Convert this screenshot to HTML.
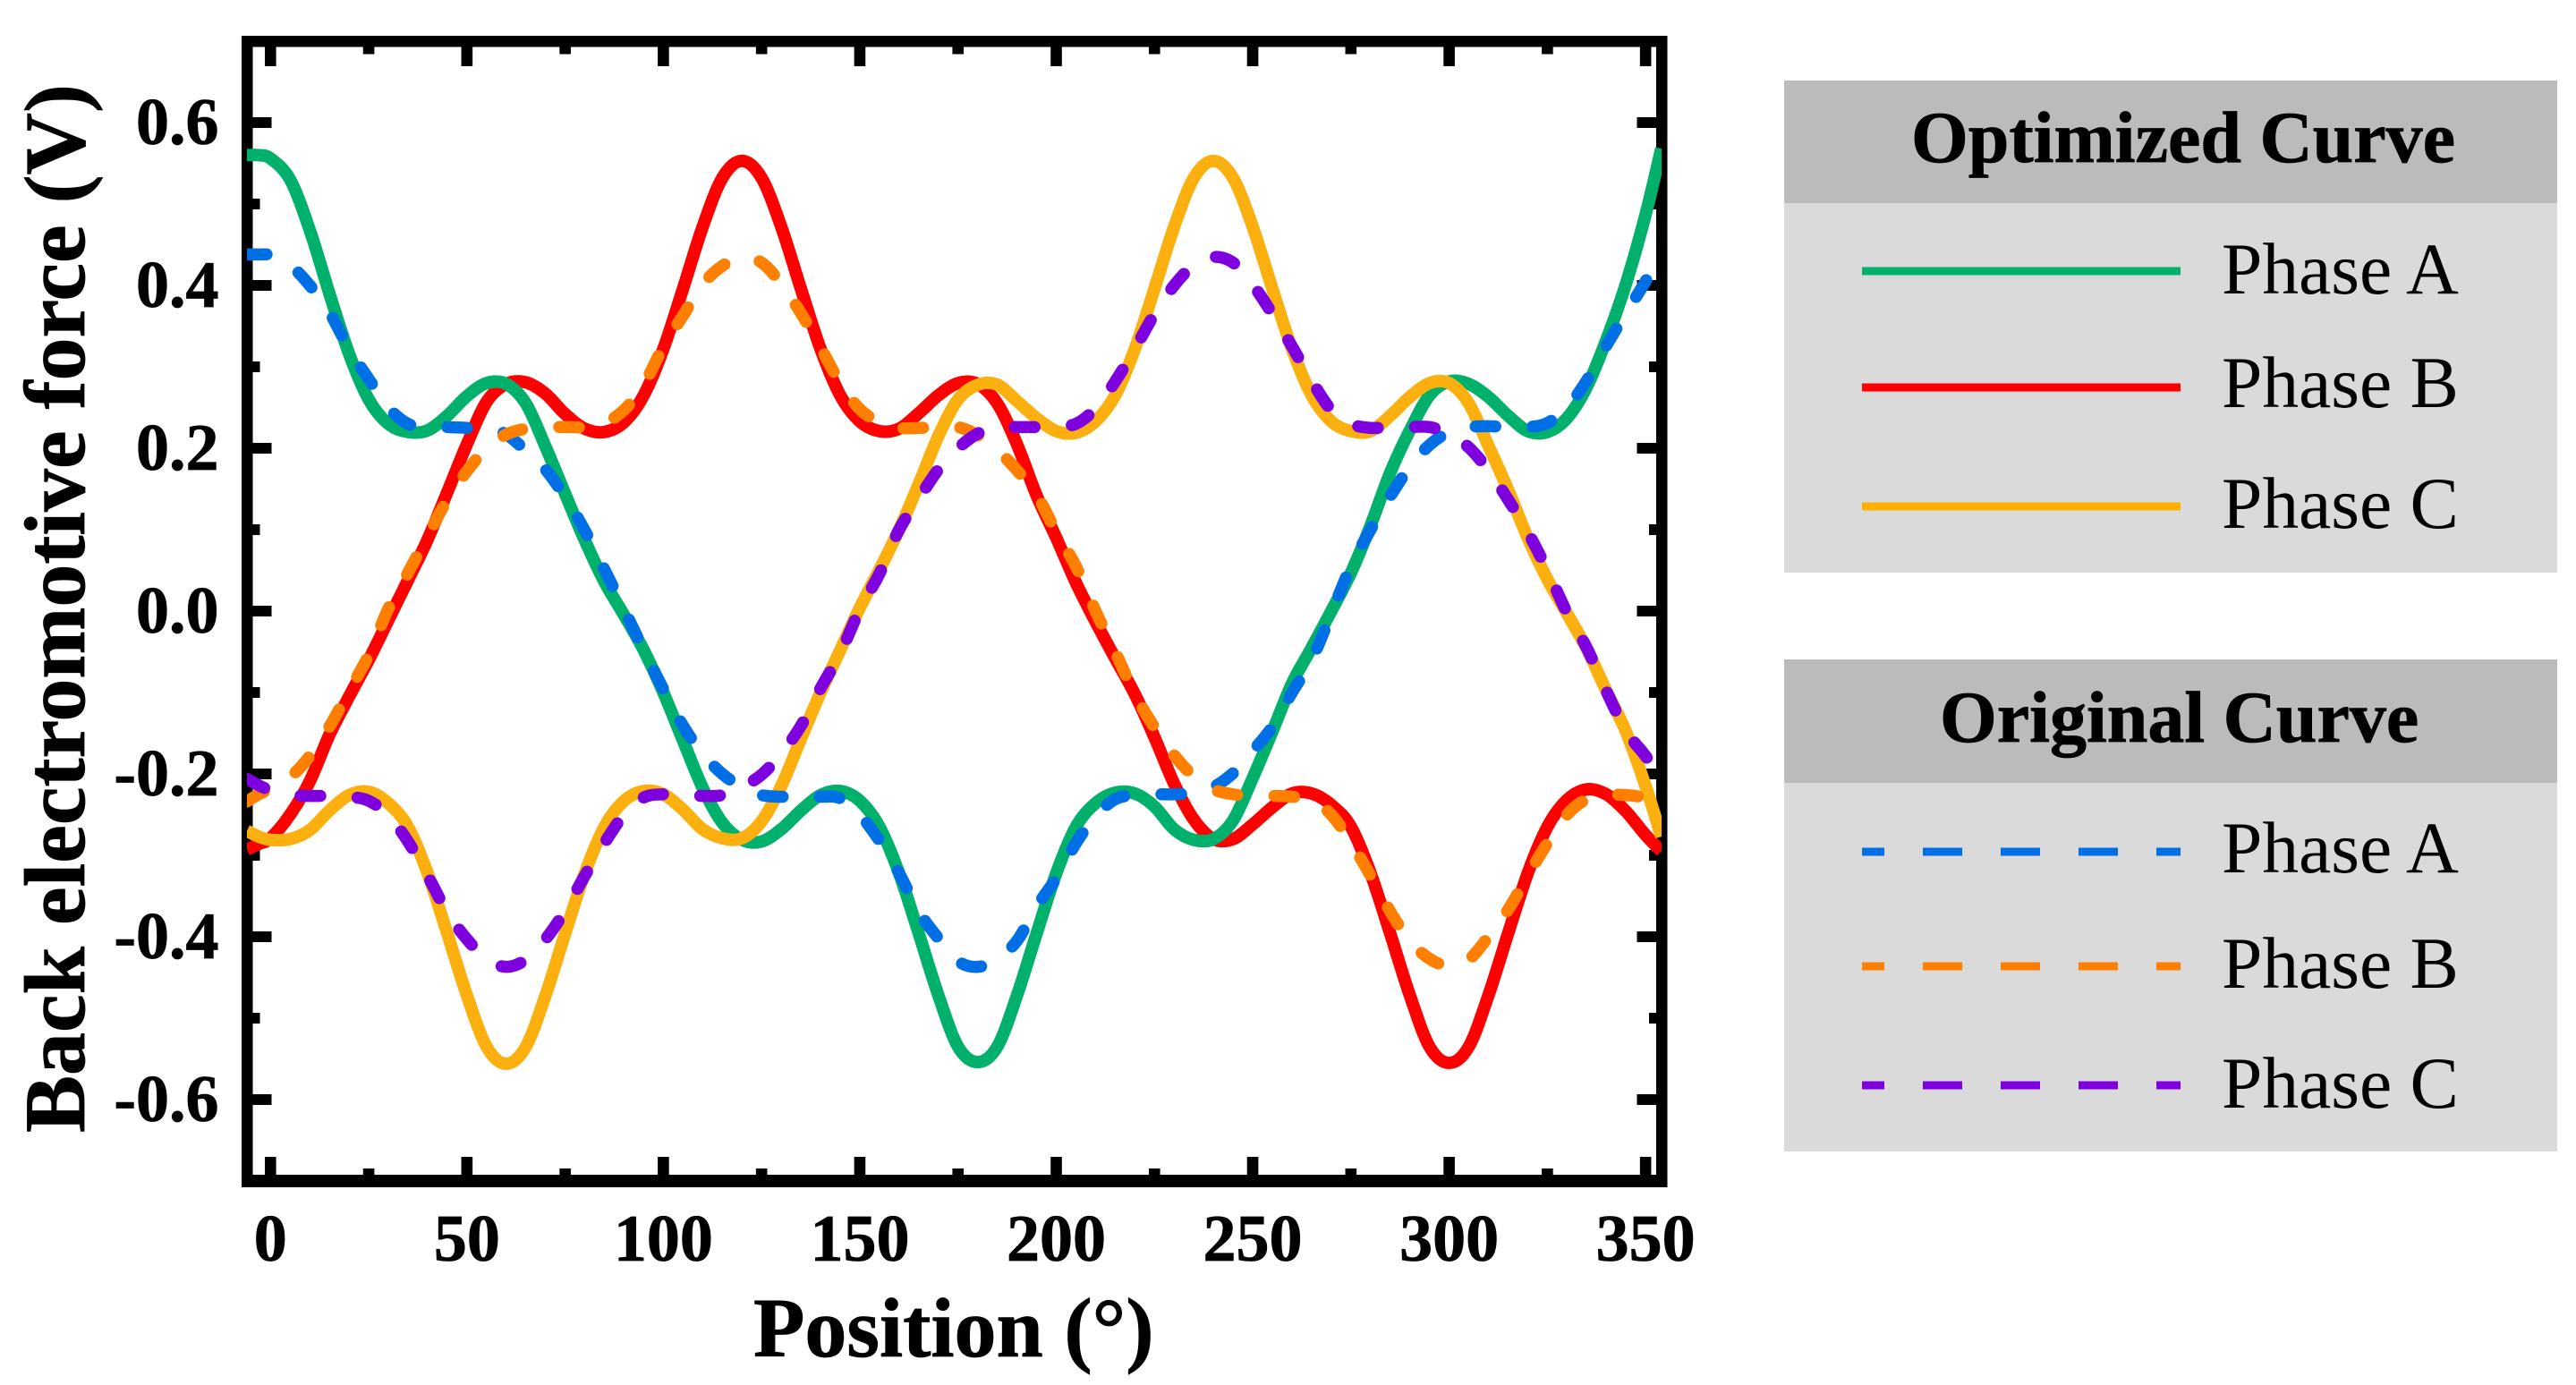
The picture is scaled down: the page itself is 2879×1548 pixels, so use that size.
<!DOCTYPE html>
<html lang="en">
<head>
<meta charset="utf-8">
<title>Back electromotive force</title>
<style>
html,body{margin:0;padding:0;background:#fff;width:2879px;height:1548px;overflow:hidden}
svg{display:block}
text{font-family:"Liberation Serif",serif;fill:#000}
.b{font-weight:bold;stroke:#000;stroke-width:.8px}
</style>
</head>
<body>
<svg id="chart" xmlns="http://www.w3.org/2000/svg" width="2879" height="1548" viewBox="0 0 2879 1548">
  <rect x="0" y="0" width="2879" height="1548" fill="#fff"/>
  <defs><clipPath id="plot-clip"><rect x="276" y="46" width="1581" height="1274"/></clipPath></defs>
  <g id="axes"></g>
  <g id="solid" clip-path="url(#plot-clip)"></g>
  <g id="dashed" clip-path="url(#plot-clip)"></g>
  <text class="b" font-size="96" transform="translate(94,1266) rotate(-90)">Back electromotive force (V)</text>
  <text class="b" font-size="94" x="842" y="1516">Position (°)</text>

  <g>
    <rect x="1994" y="227" width="864" height="413" fill="#dadada"/>
    <rect x="1994" y="90" width="864" height="137" fill="#bbbbbb"/>
    <text class="b" font-size="82" x="2136" y="181">Optimized Curve</text>
    <line x1="2081" y1="303" x2="2437" y2="303" stroke="#00b06b" stroke-width="9"/>
    <text font-size="81.5" x="2483" y="328">Phase A</text>
    <line x1="2081" y1="433" x2="2437" y2="433" stroke="#ff0000" stroke-width="9"/>
    <text font-size="81.5" x="2483" y="455">Phase B</text>
    <line x1="2081" y1="566" x2="2437" y2="566" stroke="#ffb000" stroke-width="9"/>
    <text font-size="81.5" x="2483" y="590">Phase C</text>
  </g>

  <g>
    <rect x="1994" y="875" width="864" height="412" fill="#dadada"/>
    <rect x="1994" y="737" width="864" height="138" fill="#bbbbbb"/>
    <text class="b" font-size="82" x="2168" y="829">Original Curve</text>
    <line x1="2081" y1="952" x2="2437" y2="952" stroke="#006fe6" stroke-width="9" stroke-dasharray="44 43" stroke-dashoffset="19"/>
    <text font-size="81.5" x="2483" y="975">Phase A</text>
    <line x1="2081" y1="1080" x2="2437" y2="1080" stroke="#ff8000" stroke-width="9" stroke-dasharray="44 43" stroke-dashoffset="19"/>
    <text font-size="81.5" x="2483" y="1104">Phase B</text>
    <line x1="2081" y1="1213" x2="2437" y2="1213" stroke="#7f00df" stroke-width="9" stroke-dasharray="44 43" stroke-dashoffset="19"/>
    <text font-size="81.5" x="2483" y="1238">Phase C</text>
  </g>
</svg>
<script>
const xMajorTicks = [0, 50, 100, 150, 200, 250, 300, 350];
const xMinorTicks = [25, 75, 125, 175, 225, 275, 325];
const yMajorTicks = [0.6, 0.4, 0.2, 0.0, -0.2, -0.4, -0.6];
const yMinorTicks = [0.5, 0.3, 0.1, -0.1, -0.3, -0.5];
const xTickLabels = ["0", "50", "100", "150", "200", "250", "300", "350"];
const yTickLabels = ["0.6", "0.4", "0.2", "0.0", "-0.2", "-0.4", "-0.6"];

const angles = [-6, -3, 0, 5, 10, 15, 20, 25, 30, 35, 40, 45, 50, 55, 60, 65, 70, 75, 80, 85, 90, 95, 100, 105, 110, 115, 120, 125, 130, 135, 140, 145, 150, 155, 160, 165, 170, 175, 180, 185, 190, 195, 200, 205, 210, 215, 220, 225, 230, 235, 240, 245, 250, 255, 260, 265, 270, 275, 280, 285, 290, 295, 300, 305, 310, 315, 320, 325, 330, 335, 340, 345, 350, 354];

const optimizedA = [.56, .56, .556, .53, .468, .39, .316, .26, .23, .22, .222, .24, .264, .28, .279, .255, .202, .144, .087, .036, -.005, -.048, -.1, -.159, -.217, -.26, -.281, -.283, -.268, -.245, -.226, -.221, -.233, -.265, -.322, -.396, -.472, -.535, -.554, -.535, -.472, -.396, -.322, -.265, -.236, -.223, -.224, -.24, -.268, -.281, -.28, -.257, -.205, -.148, -.089, -.045, 0, .047, .105, .17, .222, .265, .282, .279, .263, .24, .221, .22, .237, .275, .333, .402, .487, .568];
const optimizedB = [-.293, -.286, -.279, -.25, -.209, -.152, -.105, -.06, -.011, .038, .088, .146, .205, .257, .279, .281, .267, .242, .224, .22, .232, .265, .322, .396, .472, .532, .553, .532, .472, .396, .322, .265, .233, .221, .224, .243, .265, .28, .279, .255, .205, .142, .09, .035, -.013, -.058, -.102, -.155, -.212, -.256, -.28, -.28, -.262, -.241, -.224, -.224, -.238, -.265, -.322, -.396, -.472, -.535, -.555, -.535, -.472, -.396, -.322, -.265, -.232, -.219, -.225, -.246, -.275, -.295];
const optimizedC = [-.27, -.277, -.281, -.28, -.269, -.245, -.226, -.222, -.236, -.265, -.322, -.396, -.472, -.535, -.556, -.535, -.472, -.396, -.322, -.265, -.233, -.221, -.225, -.244, -.268, -.279, -.279, -.258, -.215, -.157, -.1, -.048, .004, .051, .1, .156, .215, .26, .278, .278, .258, .237, .221, .219, .233, .265, .322, .396, .472, .532, .553, .532, .472, .396, .322, .265, .233, .221, .221, .24, .263, .28, .28, .255, .203, .149, .09, .039, -.003, -.046, -.098, -.148, -.215, -.277];

const originalA = [.438, .438, .437, .425, .4, .367, .322, .285, .25, .23, .226, .226, .225, .225, .217, .197, .174, .14, .099, .051, .002, -.048, -.096, -.141, -.175, -.2, -.216, -.226, -.228, -.228, -.228, -.23, -.25, -.282, -.322, -.369, -.402, -.43, -.437, -.427, -.405, -.363, -.328, -.285, -.252, -.231, -.226, -.225, -.225, -.223, -.216, -.199, -.172, -.142, -.1, -.06, -.003, .055, .1, .141, .177, .204, .22, .226, .227, .226, .226, .231, .25, .283, .326, .366, .405, .44];
const originalB = [-.234, -.225, -.218, -.204, -.178, -.142, -.098, -.054, .003, .047, .092, .137, .172, .2, .217, .224, .226, .226, .226, .231, .247, .278, .325, .363, .401, .424, .434, .428, .402, .366, .324, .28, .248, .232, .225, .225, .226, .226, .216, .198, .173, .143, .097, .055, 0, -.05, -.102, -.143, -.177, -.203, -.219, -.225, -.227, -.227, -.228, -.232, -.25, -.284, -.325, -.369, -.405, -.427, -.436, -.428, -.4, -.367, -.325, -.285, -.25, -.231, -.226, -.226, -.229, -.234];
const originalC = [-.206, -.214, -.22, -.226, -.227, -.227, -.228, -.233, -.251, -.283, -.325, -.37, -.403, -.427, -.437, -.428, -.403, -.368, -.325, -.285, -.25, -.229, -.225, -.226, -.227, -.226, -.216, -.201, -.175, -.141, -.095, -.052, .002, .046, .1, .138, .174, .2, .218, .226, .226, .226, .227, .23, .249, .282, .322, .365, .4, .425, .435, .428, .401, .365, .325, .283, .247, .23, .225, .226, .226, .226, .218, .201, .173, .137, .097, .05, -.002, -.045, -.098, -.147, -.178, -.206];

const SVGNS = "http://www.w3.org/2000/svg";
const xScale = v => 302.3 + 4.391 * v;
const yScale = v => 683 - 910 * v;

function make(tag, parent) {
  const el = document.createElementNS(SVGNS, tag);
  parent.appendChild(el);
  return el;
}

function smoothPath(xs, ys) {
  const pts = xs.map((x, i) => [xScale(x), yScale(ys[i])]);
  let d = "M" + pts[0][0].toFixed(2) + " " + pts[0][1].toFixed(2);
  for (let i = 0; i < pts.length - 1; i++) {
    const p0 = pts[Math.max(0, i - 1)], p1 = pts[i], p2 = pts[i + 1], p3 = pts[Math.min(pts.length - 1, i + 2)];
    const c1x = p1[0] + (p2[0] - p0[0]) / 6, c1y = p1[1] + (p2[1] - p0[1]) / 6;
    const c2x = p2[0] - (p3[0] - p1[0]) / 6, c2y = p2[1] - (p3[1] - p1[1]) / 6;
    d += "C" + c1x.toFixed(2) + " " + c1y.toFixed(2) + " " + c2x.toFixed(2) + " " + c2y.toFixed(2) + " " + p2[0].toFixed(2) + " " + p2[1].toFixed(2);
  }
  return d;
}

const axes = document.getElementById("axes");

function box(parent, x, y, w, h) {
  const r = make("rect", parent);
  r.setAttribute("x", x);
  r.setAttribute("y", y);
  r.setAttribute("width", w);
  r.setAttribute("height", h);
  r.setAttribute("fill", "#000");
  return r;
}

// spines
let spine = box(axes, 270, 40, 1593.5, 12.5);


spine = box(axes, 270, 1313, 1593.5, 14);


spine = box(axes, 270, 40, 12.5, 1287);


spine = box(axes, 1851, 40, 12.5, 1287);



// x ticks
xMajorTicks.forEach((v, i) => {
  const px = xScale(v);
  const t1 = box(axes, px - 6.3, 52, 12.6, 22);
  
  
  const t2 = box(axes, px - 6.3, 1293, 12.6, 21);
  
  
  const label = make("text", axes);
  
  
  label.setAttribute("class", "b");
  label.setAttribute("font-size", "74");
  label.setAttribute("text-anchor", "middle");
  label.setAttribute("x", px);
  label.setAttribute("y", 1409);
  label.textContent = xTickLabels[i];
});
xMinorTicks.forEach(v => {
  const px = xScale(v);
  const t1 = box(axes, px - 6.3, 52, 12.6, 8.5);
  
  
  const t2 = box(axes, px - 6.3, 1306, 12.6, 8);
  
  
});

// y ticks
yMajorTicks.forEach((v, i) => {
  const py = yScale(v);
  const t1 = box(axes, 282, py - 6, 21.5, 12);
  
  
  const t2 = box(axes, 1829.5, py - 6, 22, 12);
  
  
  const label = make("text", axes);
  
  
  label.setAttribute("class", "b");
  label.setAttribute("font-size", "74");
  label.setAttribute("text-anchor", "end");
  label.setAttribute("x", 244.5);
  label.setAttribute("y", py + 24);
  label.textContent = yTickLabels[i];
});
yMinorTicks.forEach(v => {
  const py = yScale(v);
  const t1 = box(axes, 282, py - 6, 8.5, 12);
  
  
  const t2 = box(axes, 1843, py - 6, 8.5, 12);
  
  
});

// curves
const solidGroup = document.getElementById("solid");
const dashedGroup = document.getElementById("dashed");

const lineB = make("path", solidGroup);


lineB.setAttribute("d", smoothPath(angles, optimizedB));
lineB.setAttribute("stroke", "#ff0000");

const lineA = make("path", solidGroup);


lineA.setAttribute("d", smoothPath(angles, optimizedA));
lineA.setAttribute("stroke", "#00b06b");

const lineC = make("path", solidGroup);


lineC.setAttribute("d", smoothPath(angles, optimizedC));
lineC.setAttribute("stroke", "#fcb00f");

[lineA, lineB, lineC].forEach(p => {
  p.setAttribute("fill", "none");
  p.setAttribute("stroke-width", "14");
  p.setAttribute("stroke-linejoin", "round");
});

const dashA = make("path", dashedGroup);


dashA.setAttribute("d", smoothPath(angles, originalA));
dashA.setAttribute("stroke", "#006fe6");

const dashB = make("path", dashedGroup);


dashB.setAttribute("d", smoothPath(angles, originalB));
dashB.setAttribute("stroke", "#ff8000");

const dashC = make("path", dashedGroup);


dashC.setAttribute("d", smoothPath(angles, originalC));
dashC.setAttribute("stroke", "#7f00df");

[dashA, dashB, dashC].forEach(p => {
  p.setAttribute("fill", "none");
  p.setAttribute("stroke-width", "13.5");
  p.setAttribute("stroke-linecap", "round");
  p.setAttribute("stroke-linejoin", "round");
  p.setAttribute("stroke-dasharray", "22 41.7");
});
</script>
</body>
</html>
